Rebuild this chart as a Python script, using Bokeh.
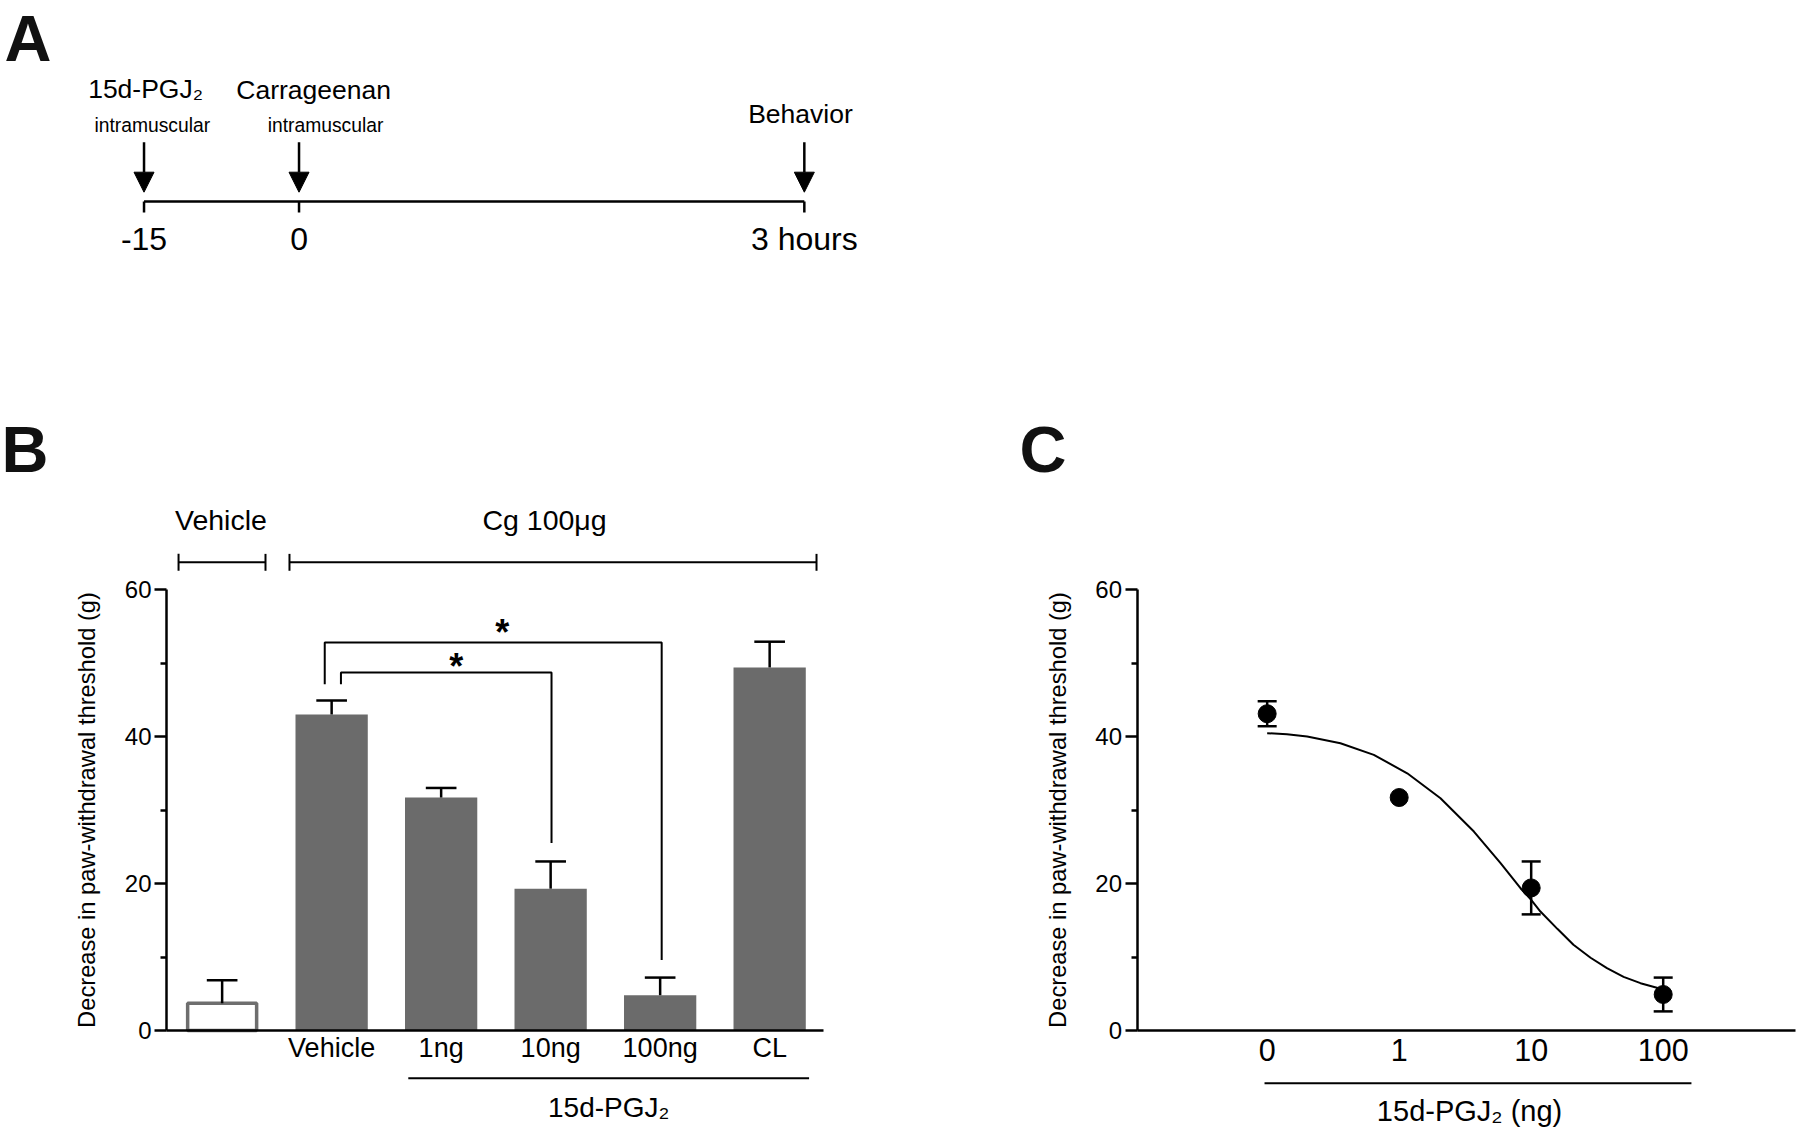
import numpy as np
from bokeh.plotting import figure
from bokeh.models import Range1d, FixedTicker, ColumnDataSource, Arrow, NormalHead
from bokeh.layouts import column, row
from bokeh.embed import file_html
from bokeh.resources import INLINE
from bokeh.core.properties import value

FONT = "Liberation Sans"
F = value(FONT)

# ---------------- data ----------------
# Panel A : experimental timeline
tl_labels = ["-15", "0", "3 hours"]
tl_pos = [0.0, 1.0, 4.26]
ev_names = ["15d-PGJ₂", "Carrageenan", "Behavior"]
ev_name_x = [0.01, 1.094, 4.235]
ev_routes = ["intramuscular", "intramuscular"]
ev_route_x = [0.053, 1.171]

# Panel B : bar chart
b_labels = ["", "Vehicle", "1ng", "10ng", "100ng", "CL"]
b_means = [3.7, 43.0, 31.7, 19.3, 4.8, 49.4]
b_sem = [3.15, 1.9, 1.3, 3.7, 2.4, 3.5]
b_groups = ["Vehicle", "Cg 100μg"]
b_group_start = [-0.398, 0.615]
b_group_end = [0.396, 5.428]
b_group_label_x = [-0.011, 2.944]
sig_start = [0.937, 1.085]
sig_end = [4.014, 3.008]
sig_top = [52.8, 48.7]
sig_left_bottom = [47.1, 47.1]
sig_right_bottom = [9.6, 25.5]
sig_star_x = [2.557, 2.138]
sig_star_y = [55.3, 50.6]
y_ticks = [0, 20, 40, 60]
y_minor = [10, 30, 50]

# Panel C : dose-response
c_labels = ["0", "1", "10", "100"]
c_pos = [-1, 0, 1, 2]
c_means = [43.1, 31.7, 19.4, 4.9]
c_sem = [1.7, 1.1, 3.6, 2.3]
c_fit_x = [-1.0, -0.85, -0.697, -0.445, -0.192, 0.061, 0.313, 0.566, 0.768,
           0.919, 1.0, 1.07, 1.2, 1.32, 1.45, 1.574, 1.7, 1.828, 1.966]
c_fit_y = [40.45, 40.3, 40.0, 39.09, 37.5, 35.0, 31.6, 27.07, 22.76,
           19.36, 17.78, 16.19, 13.8, 11.66, 9.9, 8.48, 7.3, 6.44, 5.76]

Y_LABEL = "Decrease in paw-withdrawal threshold (g)"
BAR_GRAY = "#6b6b6b"
PX_PER_UNIT_Y = 7.35      # vertical scale of panels B and C (px per g)
MARKER = 18               # marker diameter in panel C


def mkfig(w, h, xr, yr, axes=True):
    kw = dict(width=w, height=h, x_range=Range1d(*xr), y_range=Range1d(*yr),
              output_backend="svg", toolbar_location=None, min_border=0, title=None)
    if not axes:
        kw.update(x_axis_location=None, y_axis_location=None)
    p = figure(**kw)
    p.grid.visible = False
    p.outline_line_color = None
    return p


def style_yaxis(p, xloc):
    ax = p.yaxis[0]
    ax.fixed_location = xloc
    ax.bounds = (0, 60)
    ax.ticker = FixedTicker(ticks=y_ticks, minor_ticks=y_minor)
    ax.major_tick_out = 12
    ax.major_tick_in = 0
    ax.minor_tick_out = 6
    ax.minor_tick_in = 0
    ax.axis_line_width = 2.5
    ax.major_tick_line_width = 2.5
    ax.minor_tick_line_width = 2.5
    ax.major_label_text_font = FONT
    ax.major_label_text_font_size = "24px"
    ax.major_label_text_color = "black"
    ax.major_label_standoff = 3
    ax.axis_label = Y_LABEL
    ax.axis_label_text_font = FONT
    ax.axis_label_text_font_size = "23.7px"
    ax.axis_label_text_font_style = "normal"
    ax.axis_label_text_color = "black"
    ax.axis_label_standoff = 22


def style_xaxis(p, bounds, ticks, labels, size, standoff):
    ax = p.xaxis[0]
    ax.fixed_location = 0
    ax.bounds = bounds
    ax.ticker = FixedTicker(ticks=ticks, minor_ticks=[])
    ax.major_label_overrides = {t: l for t, l in zip(ticks, labels)}
    ax.major_tick_out = 0
    ax.major_tick_in = 0
    ax.minor_tick_out = 0
    ax.minor_tick_in = 0
    ax.axis_line_width = 2.5
    ax.major_label_text_font = FONT
    ax.major_label_text_font_size = size
    ax.major_label_text_color = "black"
    ax.major_label_standoff = standoff


# ---------------- Panel A ----------------
pA = mkfig(1798, 398, (-0.926, 10.674), (398, 0), axes=False)
TL_Y = 201
pA.line(x=[tl_pos[0], tl_pos[-1]], y=[TL_Y, TL_Y], line_color="black", line_width=2.5)
pA.segment(x0=tl_pos, y0=[TL_Y] * 3, x1=tl_pos, y1=[TL_Y + 11] * 3,
           line_color="black", line_width=2.5)
pA.text(x=tl_pos, y=[238.8] * 3, text=tl_labels, text_font=F, text_font_size="32px",
        text_align="center", text_baseline="middle", text_color="black")
arrow_src = ColumnDataSource(dict(x=tl_pos, y0=[141.7] * 3, y1=[191.7] * 3))
pA.add_layout(Arrow(end=NormalHead(size=20, fill_color="black", line_color="black"),
                    x_start="x", y_start="y0", x_end="x", y_end="y1",
                    line_width=2.5, line_color="black", source=arrow_src))
pA.text(x=ev_name_x, y=[88.4, 89.5, 113.7], text=ev_names, text_font=F,
        text_font_size="26.5px", text_align="center", text_baseline="middle",
        text_color="black")
pA.text(x=ev_route_x, y=[125.1, 125.1], text=ev_routes, text_font=F,
        text_font_size="19.3px", text_align="center", text_baseline="middle",
        text_color="black")
pA.text(x=[-0.9], y=[37.5], text=["A"], text_font=F, text_font_size="65px",
        text_font_style="bold", text_align="left", text_baseline="middle",
        text_color="#111111")

# ---------------- Panel B ----------------
YR = (-14.15, 85.99)
pB = mkfig(908, 736, (-2.024, 6.268), YR)
bx = np.arange(len(b_labels))
means = np.array(b_means)
sems = np.array(b_sem)
pB.vbar(x=bx[1:], top=means[1:], bottom=0, width=0.66, fill_color=BAR_GRAY,
        line_color=None)
pB.vbar(x=bx[:1], top=means[:1], bottom=0, width=0.63, fill_color="white",
        line_color="#6e6e6e", line_width=3.5)
pB.segment(x0=bx, y0=means, x1=bx, y1=means + sems, line_color="black", line_width=2.5)
pB.segment(x0=bx - 0.14, y0=means + sems, x1=bx + 0.14, y1=means + sems,
           line_color="black", line_width=2.5)
# significance brackets
xs = [[a, a, b, b] for a, b in zip(sig_start, sig_end)]
ys = [[l, t, t, r] for l, t, r in zip(sig_left_bottom, sig_top, sig_right_bottom)]
pB.multi_line(xs=xs, ys=ys, line_color="black", line_width=2)
pB.text(x=sig_star_x, y=sig_star_y, text=["*", "*"], text_font=F, text_font_size="36px",
        text_font_style="bold", text_align="center", text_baseline="middle",
        y_offset=8, text_color="black")
# group brackets
GY = 63.7
pB.segment(x0=b_group_start, y0=[GY] * 2, x1=b_group_end, y1=[GY] * 2,
           line_color="black", line_width=2)
ends = b_group_start + b_group_end
pB.segment(x0=ends, y0=[GY - 1.15] * 4, x1=ends, y1=[GY + 1.15] * 4,
           line_color="black", line_width=2)
pB.text(x=b_group_label_x, y=[69.5] * 2, text=b_groups, text_font=F,
        text_font_size="28.5px", text_align="center", text_baseline="middle",
        text_color="black")
# treatment underline
pB.line(x=[1.70, 5.36], y=[-6.48, -6.48], line_color="black", line_width=2)
pB.text(x=[3.53], y=[-10.5], text=["15d-PGJ₂"], text_font=F, text_font_size="28px",
        text_align="center", text_baseline="middle", text_color="black")
pB.text(x=[-2.015], y=[79.0], text=["B"], text_font=F, text_font_size="65px",
        text_font_style="bold", text_align="left", text_baseline="middle",
        text_color="#111111")
style_yaxis(pB, -0.508)
style_xaxis(pB, (-0.508, 5.49), list(bx.astype(float)), b_labels, "27px", 2)

# ---------------- Panel C ----------------
pC = mkfig(890, 736, (-3.717, 3.025), YR)
cx = np.array(c_pos, dtype=float)
cm = np.array(c_means)
cs = np.array(c_sem)
pC.line(x=c_fit_x, y=c_fit_y, line_color="black", line_width=2)
# error bars shorter than the symbol are hidden (as in the original software)
show = cs * PX_PER_UNIT_Y > MARKER / 2 + 1
ex, em, es = cx[show], cm[show], cs[show]
pC.segment(x0=ex, y0=em - es, x1=ex, y1=em + es, line_color="black", line_width=2.5)
pC.segment(x0=np.concatenate([ex, ex]) - 0.072, y0=np.concatenate([em - es, em + es]),
           x1=np.concatenate([ex, ex]) + 0.072, y1=np.concatenate([em - es, em + es]),
           line_color="black", line_width=2.5)
pC.scatter(x=cx, y=cm, size=MARKER, marker="circle", fill_color="black",
           line_color="black")
pC.line(x=[-1.02, 2.214], y=[-7.16, -7.16], line_color="black", line_width=2)
pC.text(x=[0.533], y=[-11.0], text=["15d-PGJ₂ (ng)"], text_font=F, text_font_size="29px",
        text_align="center", text_baseline="middle", text_color="black")
pC.text(x=[-2.877], y=[79.0], text=["C"], text_font=F, text_font_size="65px",
        text_font_style="bold", text_align="left", text_baseline="middle",
        text_color="#111111")
style_yaxis(pC, -1.986)
style_xaxis(pC, (-1.986, 3.002), list(cx), c_labels, "30.5px", 8)

layout = column(pA, row(pB, pC))
open("out.html", "w").write(file_html(layout, INLINE))
